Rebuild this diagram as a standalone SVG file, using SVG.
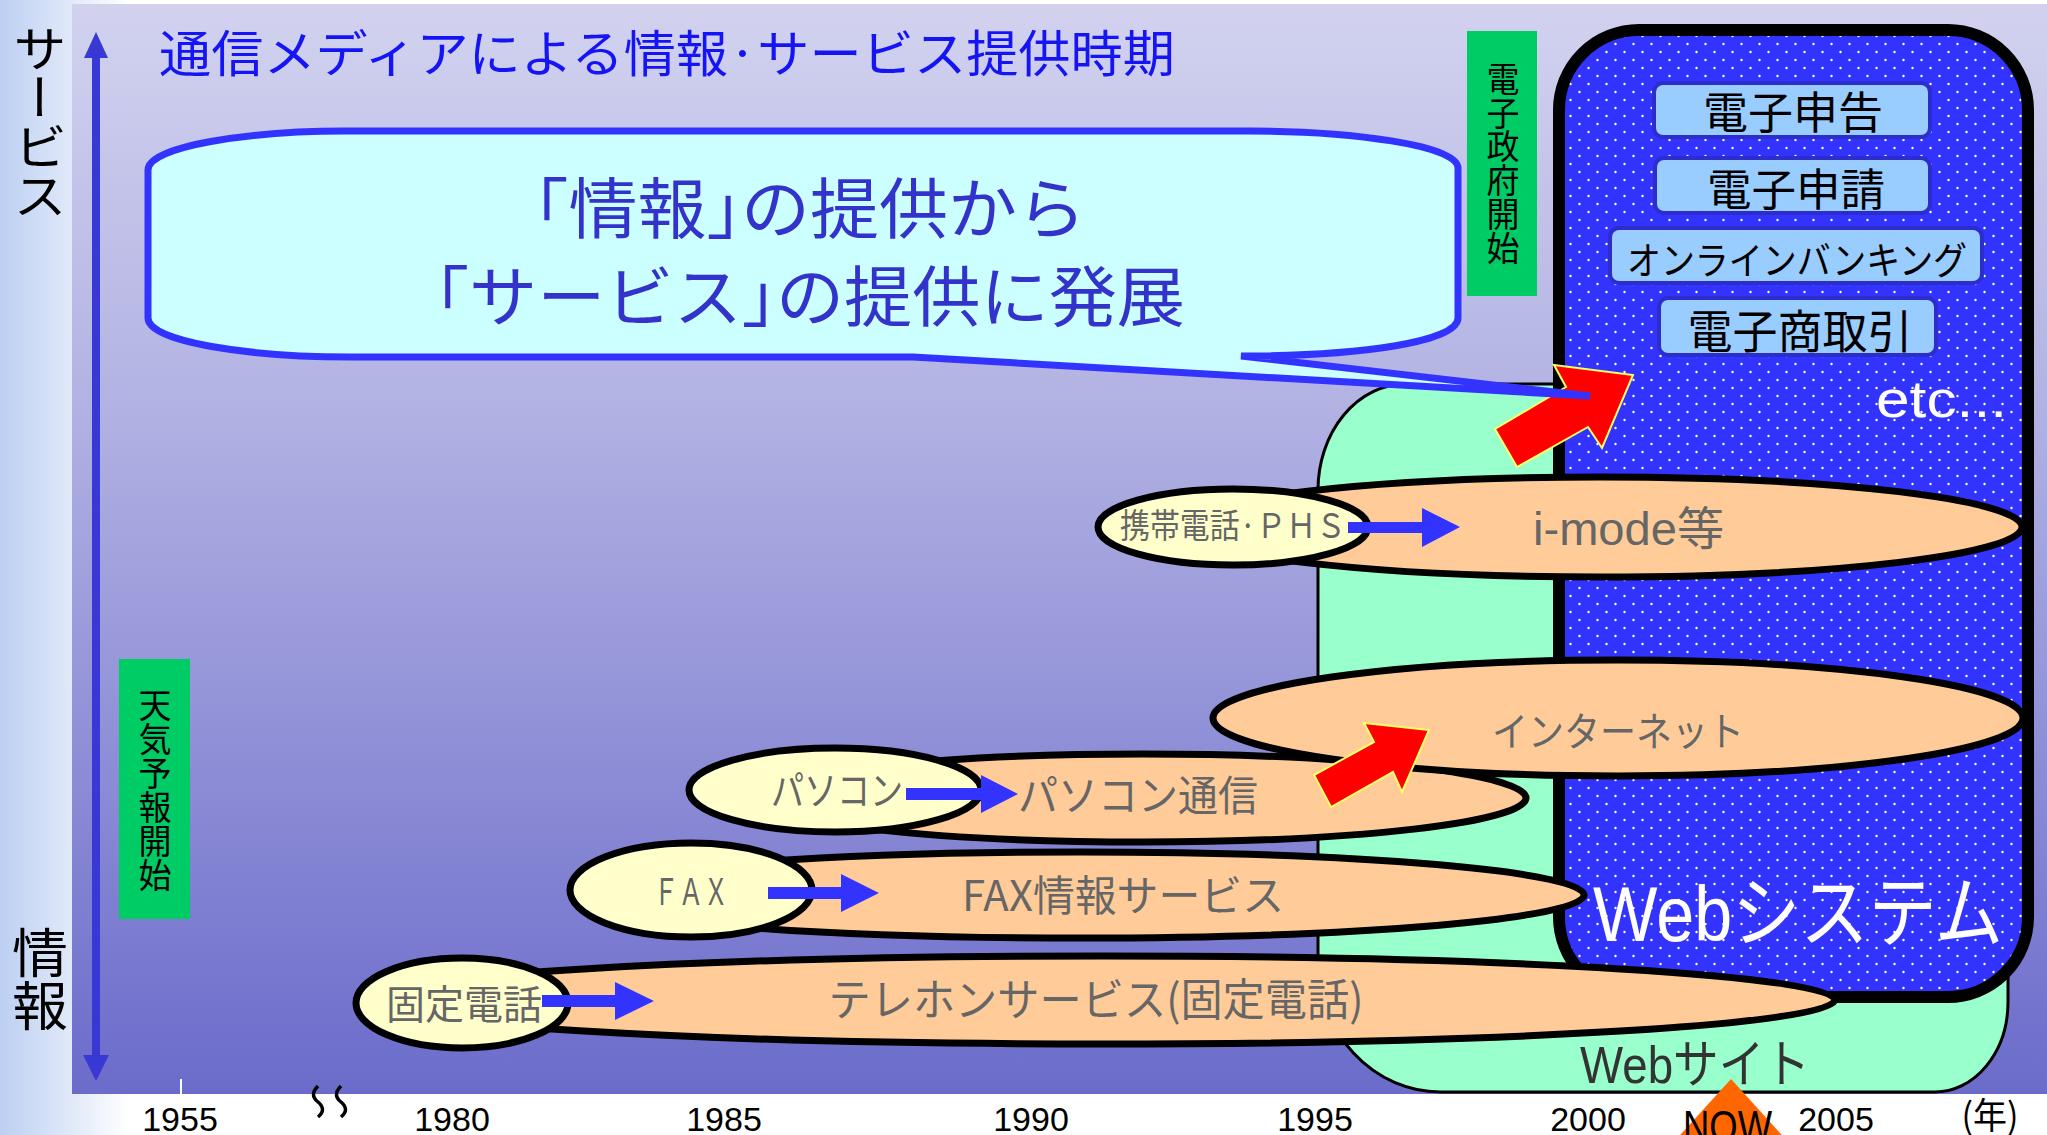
<svg xmlns="http://www.w3.org/2000/svg" width="2047" height="1135" viewBox="0 0 2047 1135">
<defs>
<linearGradient id="strip" x1="0" y1="0" x2="1" y2="0">
<stop offset="0" stop-color="#bccff2"/><stop offset="1" stop-color="#ffffff"/>
</linearGradient>
<linearGradient id="panel" x1="0" y1="0" x2="0" y2="1">
<stop offset="0" stop-color="#d2d2ef"/><stop offset="0.35" stop-color="#b4b4e4"/><stop offset="1" stop-color="#6b6bcb"/>
</linearGradient>
<pattern id="dots" width="18" height="16" patternUnits="userSpaceOnUse">
<circle cx="4.5" cy="4" r="1.2" fill="#ffffff"/><circle cx="13.5" cy="12" r="1.2" fill="#ffffff"/>
</pattern>
<style>
.jp{font-family:"Noto Sans CJK JP","Noto Sans CJK SC",sans-serif;}
.lat{font-family:"Liberation Sans","Noto Sans CJK JP",sans-serif;}
.gray{fill:#666666;}
.big{fill:#ffcc99;stroke:#000;stroke-width:7;}
.small{fill:#ffffcc;stroke:#000;stroke-width:7;}
.btn{fill:#99ccff;stroke:#2d2dcc;stroke-width:4;}
.lbl{fill:#00cc66;}
.blue{fill:#3333ff;}
.red{fill:#ff0000;stroke:#ffff66;stroke-width:2;}
.year{font-family:"Liberation Sans",sans-serif;font-size:34px;fill:#000;text-anchor:middle;}
.v{writing-mode:vertical-rl;}
</style>
</defs>

<rect x="0" y="0" width="2047" height="1135" fill="#ffffff"/>
<rect x="0" y="0" width="130" height="1135" fill="url(#strip)"/>
<rect x="72" y="4" width="1975" height="1090" fill="url(#panel)"/>

<g id="axis">
<rect x="92" y="55" width="8" height="1003" fill="#3838d4"/>
<polygon points="96,32 84,58 108,58" fill="#3838d4"/>
<polygon points="96,1081 83,1055 109,1055" fill="#3838d4"/>
<text class="jp v" x="40" y="24" font-size="54" textLength="196" lengthAdjust="spacingAndGlyphs" fill="#000">サービス</text>
<text class="jp v" x="40" y="926" font-size="56" textLength="106" lengthAdjust="spacingAndGlyphs" fill="#000">情報</text>
</g>

<text id="title" class="jp" x="159" y="72" font-size="50" textLength="1016" lengthAdjust="spacingAndGlyphs" fill="#1414f5">通信メディアによる情報·サービス提供時期</text>

<g id="label-weather">
<rect class="lbl" x="119" y="659" width="71" height="260"/>
<text class="jp v" x="155" y="688" font-size="33" textLength="204" lengthAdjust="spacingAndGlyphs" fill="#000">天気予報開始</text>
</g>
<g id="label-egov">
<rect class="lbl" x="1467" y="31" width="70" height="265"/>
<text class="jp v" x="1503" y="62" font-size="33" textLength="203" lengthAdjust="spacingAndGlyphs" fill="#000">電子政府開始</text>
</g>

<g id="website">
<path d="M1318,490 A88,106 0 0 1 1406,384 L1930,384 A78,90 0 0 1 2008,474 L2008,1002 A73,90 0 0 1 1935,1092 L1440,1092 A122,132 0 0 1 1318,960 Z" fill="#99ffcc" stroke="#000" stroke-width="3"/>
<text class="lat" x="1580" y="1083" font-size="52" textLength="230" lengthAdjust="spacingAndGlyphs" fill="#333333">Webサイト</text>
</g>

<g id="websystem">
<rect x="1559" y="30" width="469" height="967" rx="80" fill="#3333ff"/>
<rect x="1559" y="30" width="469" height="967" rx="80" fill="url(#dots)"/>
<rect x="1559" y="30" width="469" height="967" rx="80" fill="none" stroke="#000" stroke-width="12"/>
<g id="btn-shinkoku"><rect class="btn" x="1654" y="83" width="276" height="54" rx="9"/>
<text class="jp" x="1793" y="129" font-size="44" text-anchor="middle" textLength="180" lengthAdjust="spacingAndGlyphs" fill="#000">電子申告</text></g>
<g id="btn-shinsei"><rect class="btn" x="1655" y="158" width="275" height="55" rx="9"/>
<text class="jp" x="1796" y="206" font-size="44" text-anchor="middle" textLength="178" lengthAdjust="spacingAndGlyphs" fill="#000">電子申請</text></g>
<g id="btn-banking"><rect class="btn" x="1610" y="228" width="372" height="55" rx="9"/>
<text class="jp" x="1797" y="274" font-size="38" text-anchor="middle" textLength="340" lengthAdjust="spacingAndGlyphs" fill="#000">オンラインバンキング</text></g>
<g id="btn-commerce"><rect class="btn" x="1659" y="298" width="277" height="57" rx="9"/>
<text class="jp" x="1800" y="348" font-size="46" text-anchor="middle" textLength="225" lengthAdjust="spacingAndGlyphs" fill="#000">電子商取引</text></g>
<text class="lat" x="1876" y="417" font-size="52" textLength="131" lengthAdjust="spacingAndGlyphs" fill="#ffffff">etc...</text>
<text class="lat" x="1593" y="941" font-size="78" textLength="410" lengthAdjust="spacingAndGlyphs" fill="#ffffff">Webシステム</text>
</g>

<g id="telephone">
<ellipse class="big" cx="1102" cy="1000" rx="733" ry="44"/>
<text class="jp gray" x="1096" y="1016" font-size="44" text-anchor="middle" textLength="535" lengthAdjust="spacingAndGlyphs">テレホンサービス(固定電話)</text>
<ellipse class="small" cx="462" cy="1003" rx="106" ry="45"/>
<text class="jp gray" x="464" y="1019" font-size="40" text-anchor="middle" textLength="156" lengthAdjust="spacingAndGlyphs">固定電話</text>
</g>

<g id="fax">
<ellipse class="big" cx="1080" cy="895" rx="504" ry="43"/>
<text class="jp gray" x="1123" y="911" font-size="42" text-anchor="middle" textLength="322" lengthAdjust="spacingAndGlyphs">FAX情報サービス</text>
<ellipse class="small" cx="691" cy="890" rx="121" ry="47"/>
<text class="jp gray" x="691" y="905" font-size="37" text-anchor="middle" textLength="75" lengthAdjust="spacingAndGlyphs">ＦＡＸ</text>
</g>

<g id="pc">
<ellipse class="big" cx="1143" cy="798" rx="383" ry="44"/>
<text class="jp gray" x="1138" y="811" font-size="42" text-anchor="middle" textLength="240" lengthAdjust="spacingAndGlyphs">パソコン通信</text>
<ellipse class="small" cx="835" cy="790" rx="146" ry="42"/>
<text class="jp gray" x="837" y="805" font-size="40" text-anchor="middle" textLength="132" lengthAdjust="spacingAndGlyphs">パソコン</text>
</g>

<g id="internet">
<ellipse class="big" cx="1618" cy="718" rx="405" ry="58"/>
<text class="jp gray" x="1618" y="746" font-size="40" text-anchor="middle" textLength="252" lengthAdjust="spacingAndGlyphs">インターネット</text>
</g>

<g id="mobile">
<ellipse class="big" cx="1601" cy="527" rx="421" ry="50"/>
<text class="lat gray" x="1533" y="545" font-size="46" textLength="191" lengthAdjust="spacingAndGlyphs">i-mode等</text>
<ellipse class="small" cx="1233" cy="527" rx="135" ry="38"/>
<text class="jp gray" x="1233" y="538" font-size="34" text-anchor="middle" textLength="226" lengthAdjust="spacingAndGlyphs">携帯電話·ＰＨＳ</text>
</g>

<g id="connectors">
<polygon class="blue" points="542,995 615,995 615,982 654,1001 615,1020 615,1007 542,1007"/>
<polygon class="blue" points="768,887 841,887 841,874 879,893 841,912 841,899 768,899"/>
<polygon class="blue" points="906,788 981,788 981,775 1018,794 981,813 981,800 906,800"/>
<polygon class="blue" points="1348,522 1422,522 1422,508 1460,527 1422,547 1422,533 1348,533"/>
<polygon class="red" points="1314,775 1374,742 1364,723 1429,730 1402,792 1393,772 1331,807"/>
<polygon class="red" points="1495,429 1566,387 1554,365 1633,375 1602,448 1588,427 1517,467"/>
</g>

<g id="callout">
<path d="M148,170 C148,146 250,131 345,131 L1250,131 C1350,131 1458,145 1458,168 L1458,318 C1458,342 1360,356 1241,356 L1590,396 L913,357 L350,357 C250,357 148,342 148,318 Z" fill="#ccffff" stroke="#3333ff" stroke-width="7" stroke-linejoin="miter"/>
<text class="jp" x="810" y="233" font-size="66" text-anchor="middle" textLength="552" lengthAdjust="spacingAndGlyphs" fill="#3333cc">｢情報｣の提供から</text>
<text class="jp" x="810" y="321" font-size="66" text-anchor="middle" textLength="750" lengthAdjust="spacingAndGlyphs" fill="#3333cc">｢サービス｣の提供に発展</text>
</g>

<g id="timeline">
<line x1="181" y1="1079" x2="181" y2="1094" stroke="#ffffff" stroke-width="2"/>
<path d="M318,1086 c-6,6 -6,11 0,16 c6,5 6,10 0,15 M341,1086 c-6,6 -6,11 0,16 c6,5 6,10 0,15" fill="none" stroke="#000" stroke-width="3.5"/>
<text class="year" x="180" y="1131">1955</text>
<text class="year" x="452" y="1131">1980</text>
<text class="year" x="724" y="1131">1985</text>
<text class="year" x="1031" y="1131">1990</text>
<text class="year" x="1315" y="1131">1995</text>
<text class="year" x="1588" y="1131">2000</text>
<text class="year" x="1836" y="1131">2005</text>
<text class="jp" x="1990" y="1129" font-size="36" text-anchor="middle" textLength="57" lengthAdjust="spacingAndGlyphs" fill="#000">(年)</text>
<g id="now">
<polygon points="1731,1079 1662,1155 1800,1155" fill="#ff6600"/>
<text class="lat" x="1683" y="1142" font-size="44" textLength="89" lengthAdjust="spacingAndGlyphs" fill="#000">NOW</text>
</g>
</g>
</svg>
